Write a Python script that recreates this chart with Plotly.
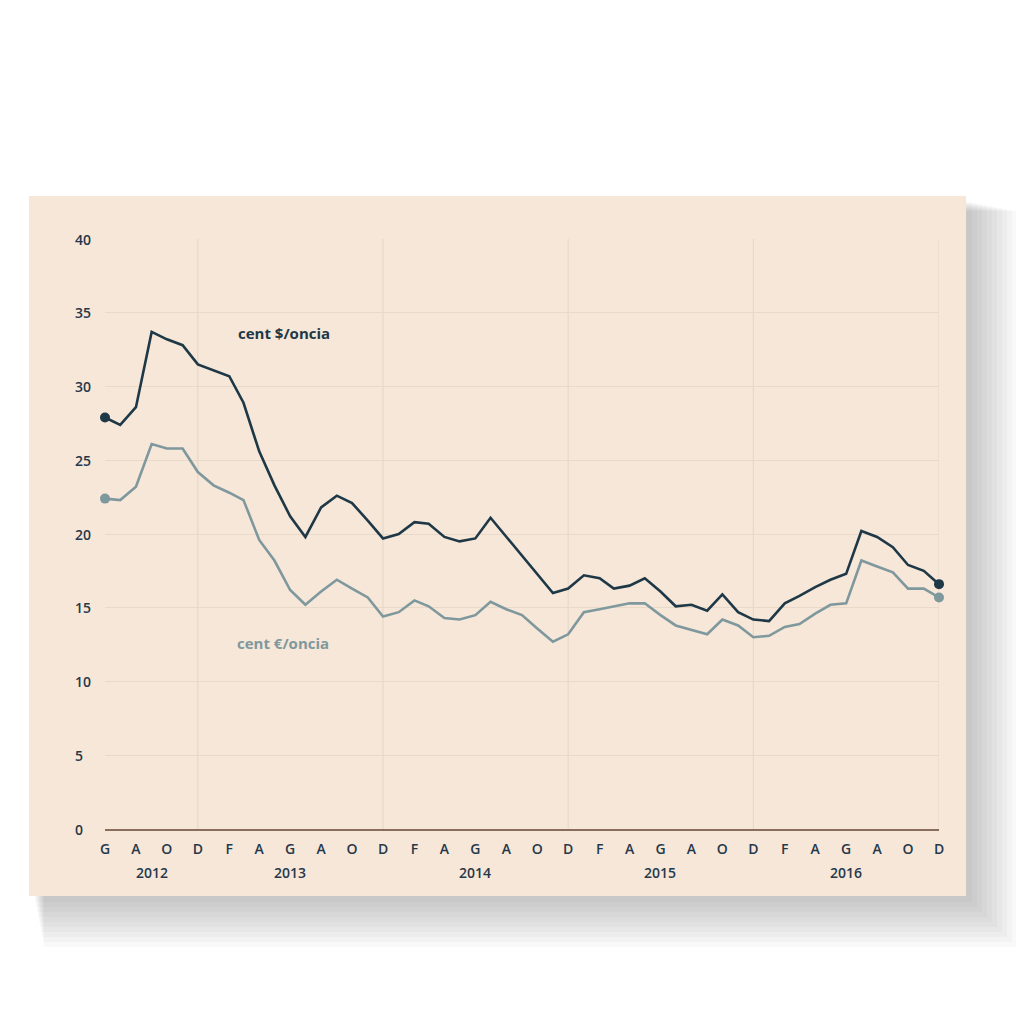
import pandas as pd
import plotly.graph_objects as go

# monthly values, Jun 2012 - Dec 2016
months = pd.date_range("2012-06-01", "2016-12-01", freq="MS")

usd_oz = [27.9, 27.4, 28.6, 33.7, 33.2, 32.8, 31.5, 31.1, 30.7, 28.9, 25.6, 23.3,
          21.2, 19.8, 21.8, 22.6, 22.1, 20.9, 19.7, 20.0, 20.8, 20.7, 19.8, 19.5,
          19.7, 21.1, 19.8, 18.5, 17.3, 16.0, 16.3, 17.2, 17.0, 16.3, 16.5, 17.0,
          16.1, 15.1, 15.2, 14.8, 15.9, 14.7, 14.2, 14.1, 15.3, 15.8, 16.4, 16.9,
          17.3, 20.2, 19.8, 19.1, 17.9, 17.5, 16.6]

eur_oz = [22.4, 22.3, 23.2, 26.1, 25.8, 25.8, 24.2, 23.3, 22.8, 22.3, 19.6, 18.2,
          16.2, 15.2, 16.1, 16.9, 16.3, 15.7, 14.4, 14.7, 15.5, 15.1, 14.3, 14.2,
          14.5, 15.4, 14.9, 14.5, 13.6, 12.7, 13.2, 14.7, 14.9, 15.1, 15.3, 15.3,
          14.5, 13.8, 13.5, 13.2, 14.2, 13.8, 13.0, 13.1, 13.7, 13.9, 14.6, 15.2,
          15.3, 18.2, 17.8, 17.4, 16.3, 16.3, 15.7]

month_initials = ["G", "F", "M", "A", "M", "G", "L", "A", "S", "O", "N", "D"]
y_ticks = [0, 5, 10, 15, 20, 25, 30, 35, 40]
year_labels = ["2012", "2013", "2014", "2015", "2016"]
year_pos = ["2012-09-01", "2013-06-01", "2014-06-01", "2015-06-01", "2016-06-01"]

BG = "#f6e7d8"
DARK = "#1e3847"
GREY = "#7f989d"
TXT = "#26384a"
FONT = "Open Sans"

# page offset of the figure (body margin) and plot area margins
OFF = 8
L, R, T, B = 97, 93, 231, 203
W = 1024 - L - R
H = 1024 - T - B

fig = go.Figure()

fig.add_trace(go.Scatter(x=months, y=eur_oz, mode="lines",
                         line=dict(color=GREY, width=2.6), hoverinfo="skip"))
fig.add_trace(go.Scatter(x=months, y=usd_oz, mode="lines",
                         line=dict(color=DARK, width=2.6), hoverinfo="skip"))
# end markers
fig.add_trace(go.Scatter(x=[months[0], months[-1]], y=[eur_oz[0], eur_oz[-1]], mode="markers",
                         marker=dict(color=GREY, size=10), cliponaxis=False, hoverinfo="skip"))
fig.add_trace(go.Scatter(x=[months[0], months[-1]], y=[usd_oz[0], usd_oz[-1]], mode="markers",
                         marker=dict(color=DARK, size=10), cliponaxis=False, hoverinfo="skip"))

# card + soft shadow (page pixel coords -> paper)
def px_x(p):
    return (p - OFF - L) / W

def px_y(p):
    return (1024 - B - (p - OFF)) / H

for k in range(10):
    off = 6 + 3 * k
    grow = 2 * k
    fig.add_shape(type="rect", xref="paper", yref="paper", layer="below",
                  x0=px_x(29 + off - grow), x1=px_x(966 + off + grow),
                  y0=px_y(896 + off + grow), y1=px_y(196 + off - grow),
                  fillcolor="rgba(80,80,80,0.035)", line=dict(width=0))
fig.add_shape(type="rect", xref="paper", yref="paper", layer="below",
              x0=px_x(29), x1=px_x(966), y0=px_y(896), y1=px_y(196),
              fillcolor=BG, line=dict(width=0))

tick_months = months[::2]
fig.update_xaxes(range=[months[0], months[-1]],
                 tickvals=tick_months,
                 ticktext=[month_initials[d.month - 1] for d in tick_months],
                 showgrid=False, zeroline=False,
                 showline=True, linecolor="#8a6e5c", linewidth=1.5,
                 ticks="", ticklabelstandoff=6,
                 tickfont=dict(family=FONT, size=14, color=TXT, weight=600))

# vertical lines at each December
for d in months:
    if d.month == 12:
        fig.add_shape(type="line", xref="x", yref="y", layer="below",
                      x0=d, x1=d, y0=0, y1=40,
                      line=dict(color="#e5d5c4", width=1))

fig.update_yaxes(range=[0, 40], tickvals=y_ticks, showticklabels=False,
                 showgrid=True, gridcolor="#e8d9c9", gridwidth=1,
                 zeroline=False, showline=False)

for v in y_ticks:
    fig.add_annotation(x=-32 / W, xref="paper", y=v, yref="y", text=str(v),
                       showarrow=False, xanchor="left", yanchor="middle",
                       font=dict(family=FONT, size=14, color=TXT, weight=600))

for lab, pos in zip(year_labels, year_pos):
    fig.add_annotation(x=pos, xref="x", y=-43 / H, yref="paper", text=lab,
                       showarrow=False, xanchor="center", yanchor="middle",
                       font=dict(family=FONT, size=14, color=TXT, weight=600))

fig.add_annotation(x="2013-05-20", y=33.6, text="cent $/oncia", showarrow=False,
                   font=dict(family=FONT, size=15, color=DARK, weight=700))
fig.add_annotation(x="2013-05-17", y=12.6, text="cent €/oncia", showarrow=False,
                   font=dict(family=FONT, size=15, color=GREY, weight=700))

fig.update_layout(width=1024, height=1024,
                  margin=dict(l=L, r=R, t=T, b=B),
                  paper_bgcolor="white", plot_bgcolor=BG,
                  showlegend=False, hovermode=False)

fig.write_html("out.html")
